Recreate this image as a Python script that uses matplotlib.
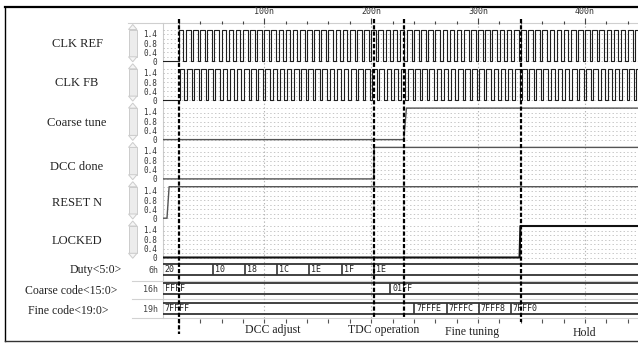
import numpy as np
import matplotlib
matplotlib.use("Agg")
import matplotlib.pyplot as plt
from matplotlib.patches import Rectangle, Polygon

plt.rcParams['lines.scale_dashes'] = False

W, H = 638, 343
SERIF = 'Liberation Serif'
MONO = 'DejaVu Sans Mono'

# time window shown (ns)
T_START, T_END = 4.8, 449.6

# analog traces
ROW_NAMES = ['CLK REF', 'CLK FB', 'Coarse tune', 'DCC done', 'RESET N', 'LOCKED']
VDD = 1.4
CLK_PERIOD = 6.67
CLK_HIGH = 0.65          # part of the period that is high
CLK_REF_START = 20.0
CLK_FB_START = 21.0

COARSE_TUNE_T = [T_START, 230.5, 233.0, T_END]
COARSE_TUNE_V = [0, 0, 1.4, 1.4]
DCC_DONE_T = [T_START, 202.4, 202.8, T_END]
DCC_DONE_V = [0, 0, 1.4, 1.4]
RESET_N_T = [T_START, 9.0, 11.0, T_END]
RESET_N_V = [0, 0, 1.4, 1.4]
LOCKED_T = [T_START, 338.8, 339.6, T_END]
LOCKED_V = [0, 0, 1.4, 1.4]

# buses
BUS_NAMES = ['Duty<5:0>', 'Coarse code<15:0>', 'Fine code<19:0>']
BUS_RADIX = ['6h', '16h', '19h']
DUTY_T = [52, 82, 112, 142, 172.5, 202.5]
DUTY_VALS = ['20', '10', '18', '1C', '1E', '1F', '1E']
COARSE_CODE_T = [218]
COARSE_CODE_VALS = ['FFFF', '01FF']
FINE_CODE_T = [240.3, 270.6, 300.5, 330.4]
FINE_CODE_VALS = ['7FFFF', '7FFFE', '7FFFC', '7FFF8', '7FFF0']

# phase markers
MARKER_T = [20.2, 202.6, 230.7, 339.7]
PHASES = ['DCC adjust', 'TDC operation', 'Fine tuning', 'Hold']
PHASE_T = [108, 212, 294.5, 399]

TIME_MAJOR = [100, 200, 300, 400]
TIME_LABELS = ['100n', '200n', '300n', '400n']
TIME_MINOR = list(range(20, 441, 20))

# layout (pixels)
X0, X1 = 162.5, 638
ROW_TOP, ROW_H = 23.5, 39.3
BUS_TOP = [264, 283, 303]
BUS_H = 11


def clock(start):
    rises = np.arange(start, T_END, CLK_PERIOD)
    t, v = [T_START], [0]
    for r in rises:
        t += [r, r + CLK_HIGH * CLK_PERIOD]
        v += [VDD, 0]
    t.append(T_END)
    v.append(v[-1])
    return t, v


def px_axes(x0, y0, x1, y1):
    ax = fig.add_axes([x0 / W, 1 - y1 / H, (x1 - x0) / W, (y1 - y0) / H])
    ax.set_facecolor('none')
    return ax


fig = plt.figure(figsize=(W / 100, H / 100), dpi=100)

# ---- canvas for frame, labels and scroll bars
cv = fig.add_axes([0, 0, 1, 1])
cv.set_xlim(0, W)
cv.set_ylim(H, 0)
cv.axis('off')
cv.plot([5, W], [7.3, 7.3], color='black', lw=1.6)
cv.plot([5, 5], [7.3, 340.5], color='black', lw=1.0)
cv.plot([5, W], [340.5, 340.5], color='#333333', lw=1.0)
cv.plot([128, W], [23.2, 23.2], color='#cfcfcf', lw=0.8)
for y in [280.7, 299, 318]:
    cv.plot([132, W], [y, y], color='#d2d2d2', lw=0.8)
cv.plot([X0, X0], [23.2, 318], color='#cccccc', lw=0.8)

for i, name in enumerate(ROW_NAMES):
    top = ROW_TOP + i * ROW_H
    bot = top + ROW_H
    cv.add_patch(Rectangle((128.5, top + 6), 8.5, ROW_H - 12,
                           facecolor='#ececec', edgecolor='#cccccc', lw=0.7))
    cv.add_patch(Polygon([(128.5, top + 6), (132.75, top + 1), (137, top + 6)],
                         facecolor='#f5f5f5', edgecolor='#cccccc', lw=0.7))
    cv.add_patch(Polygon([(128.5, bot - 6), (132.75, bot - 1), (137, bot - 6)],
                         facecolor='#f5f5f5', edgecolor='#cccccc', lw=0.7))

ROW_LABEL_Y = [44, 83, 123, 166.5, 203, 241.5]
for name, y in zip(ROW_NAMES, ROW_LABEL_Y):
    cv.text(77, y, name, ha='center', va='center', family=SERIF, fontsize=9, color='#222222')

BUS_LABEL_X = [122, 117.5, 108.5]
BUS_LABEL_Y = [270, 291, 311]
for name, radix, x, y, bt in zip(BUS_NAMES, BUS_RADIX, BUS_LABEL_X, BUS_LABEL_Y, BUS_TOP):
    cv.text(x, y, name, ha='right', va='center', family=SERIF, fontsize=8.5, color='#222222')
    cv.text(158.5, bt + BUS_H / 2 + 1, radix, ha='right', va='center', family=MONO,
            fontsize=6, color='#444444')

# ---- background grid
bg = px_axes(X0, ROW_TOP, X1, 318)
bg.set_xlim(T_START, T_END)
bg.set_ylim(0, 1)
bg.axis('off')
for t in TIME_MAJOR:
    bg.axvline(t, color='#b5b5b5', ls=':', lw=0.8)

# ---- analog rows
traces = [clock(CLK_REF_START), clock(CLK_FB_START),
          (COARSE_TUNE_T, COARSE_TUNE_V), (DCC_DONE_T, DCC_DONE_V),
          (RESET_N_T, RESET_N_V), (LOCKED_T, LOCKED_V)]
for i, (t, v) in enumerate(traces):
    top = ROW_TOP + i * ROW_H
    ax = px_axes(X0, top, X1, top + ROW_H)
    ax.set_xlim(T_START, T_END)
    ax.set_ylim(-0.08, 1.667)
    for s in ax.spines.values():
        s.set_visible(False)
    for g in [0, 0.2, 0.4, 0.6, 0.8, 1.0, 1.2, 1.4]:
        ax.axhline(g, color='#bdbdbd', ls=':', lw=0.6, zorder=0)
    if i < 2:
        ax.plot(t, v, drawstyle='steps-post', color='#1e1e1e', lw=0.8)
    elif i == 5:
        ax.plot(t, v, color='#111111', lw=1.5)
    else:
        ax.plot(t, v, color='#555555', lw=1.0)
    ax.set_yticks([0, 0.4, 0.8, 1.4], ['0', '0.4', '0.8', '1.4'],
                  family=MONO, fontsize=5.5, color='#333333')
    ax.tick_params(axis='y', length=0, pad=4)
    ax.get_yticklabels()[-1].set_verticalalignment('top')
    if i == 0:
        ax.xaxis.set_ticks_position('top')
        ax.set_xticks(TIME_MAJOR, TIME_LABELS, family=MONO, fontsize=6, color='#333333')
        ax.set_xticks(TIME_MINOR, minor=True)
        ax.tick_params(axis='x', which='major', length=4.1, width=0.8, color='#444444', pad=1)
        ax.tick_params(axis='x', which='minor', length=2.4, width=0.8, color='#444444')
    else:
        ax.set_xticks([])

# ---- buses
BUS_COLOR = '#333333'
buses = [(DUTY_T, DUTY_VALS), (COARSE_CODE_T, COARSE_CODE_VALS), (FINE_CODE_T, FINE_CODE_VALS)]
for k, (times, vals) in enumerate(buses):
    bt = BUS_TOP[k]
    ax = px_axes(X0, bt - 5, X1, bt + BUS_H + 5)
    ax.set_xlim(T_START, T_END)
    ax.set_ylim(-5 / BUS_H, 1 + 5 / BUS_H)
    for s in ax.spines.values():
        s.set_visible(False)
    ax.set_yticks([])
    ax.hlines([0, 1], T_START, T_END, color=BUS_COLOR, lw=1.3)
    ax.vlines(times, 0, 1, color=BUS_COLOR, lw=1.2)
    for t, s in zip([T_START] + list(times), vals):
        ax.annotate(s, (t, 0.5), xytext=(1.5, 0), textcoords='offset points',
                    ha='left', va='center', family=MONO, fontsize=6, color='#222222')
    if k == 2:
        ax.set_xticks(TIME_MINOR, [])
        ax.tick_params(axis='x', length=3, width=0.8, color='#555555')
    else:
        ax.set_xticks([])

# ---- phase markers and phase names
ov = px_axes(X0, 0, X1, H)
ov.set_xlim(T_START, T_END)
ov.set_ylim(H, 0)
ov.axis('off')
MARKER_BOTTOM = [334, 319, 319, 322]
for t, yb in zip(MARKER_T, MARKER_BOTTOM):
    ov.vlines(t, 19, yb, color='black', lw=1.6, linestyles=(0, (3, 1.5)))
PHASE_Y = [329.5, 330, 331.5, 332.5]
for name, t, y in zip(PHASES, PHASE_T, PHASE_Y):
    ov.text(t, y, name, ha='center', va='center', family=SERIF, fontsize=8.5, color='#222222')

fig.savefig('out.png', dpi=100)
